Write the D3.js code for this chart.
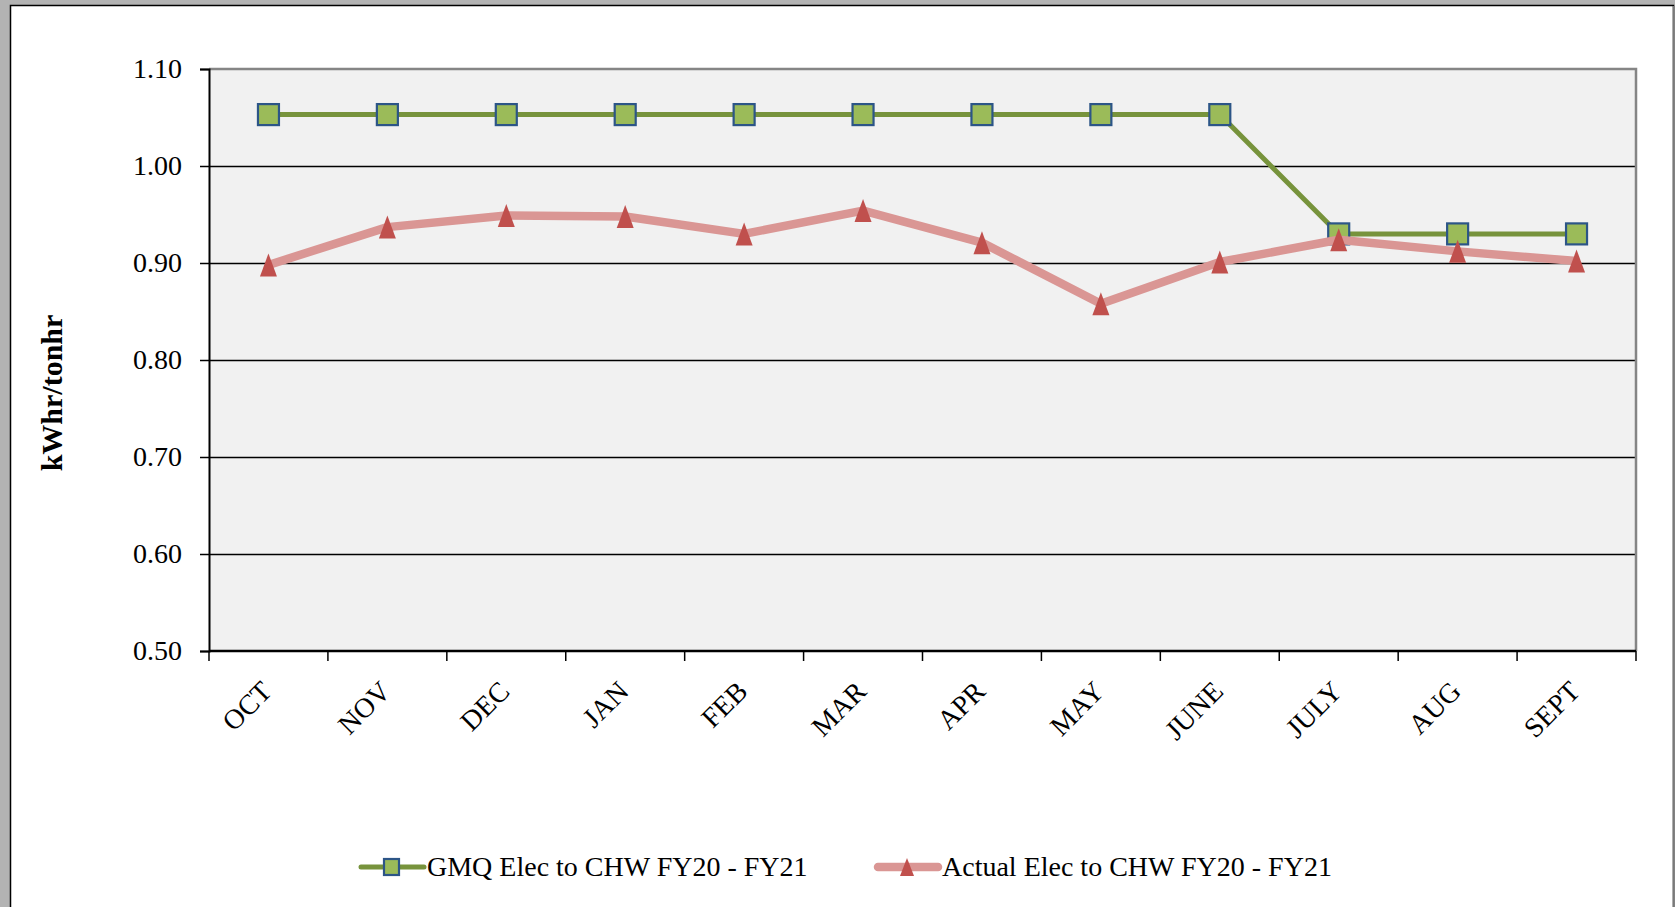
<!DOCTYPE html>
<html>
<head>
<meta charset="utf-8">
<script src="https://cdn.jsdelivr.net/npm/d3@7"></script>
<style>
  body { margin: 0; background: #b3b3b3; overflow: hidden; }
  svg { display: block; }
  text { font-family: "Liberation Serif", "Times New Roman", serif; fill: #000; }
</style>
</head>
<body>
<script>
// months on the x axis
var months = ["OCT", "NOV", "DEC", "JAN", "FEB", "MAR", "APR", "MAY", "JUNE", "JULY", "AUG", "SEPT"];

// GMQ target and actual kWhr/tonhr
var gmqValues = [1.053, 1.053, 1.053, 1.053, 1.053, 1.053, 1.053, 1.053, 1.053, 0.930, 0.930, 0.930];
var actualValues = [0.898, 0.937, 0.949, 0.948, 0.930, 0.954, 0.921, 0.858, 0.901, 0.924, 0.912, 0.902];

var yTicks = [0.50, 0.60, 0.70, 0.80, 0.90, 1.00, 1.10];
var seriesNames = ["GMQ Elec to CHW FY20 - FY21", "Actual Elec to CHW FY20 - FY21"];

var widthSVG = 1675;
var heightSVG = 907;

var plot = { left: 209, right: 1636, top: 69, bottom: 651 };

var svg = d3.select("body")
  .append("svg")
  .attr("width", widthSVG)
  .attr("height", heightSVG);

// white page with the frame
svg.append("rect")
  .attr("x", 10.5).attr("y", 5.5)
  .attr("width", 1663).attr("height", 910)
  .attr("fill", "#fff")
  .attr("stroke", "#000")
  .attr("stroke-width", 1.5);
svg.append("line")
  .attr("x1", 1673.5).attr("x2", 1673.5)
  .attr("y1", 6).attr("y2", 907)
  .attr("stroke", "#7a7a7a").attr("stroke-width", 1.5);

var x = d3.scaleBand().domain(months).range([plot.left, plot.right]);
var y = d3.scaleLinear().domain([0.5, 1.1]).range([plot.bottom, plot.top]);

// plot background
svg.append("rect")
  .attr("x", plot.left).attr("y", plot.top)
  .attr("width", plot.right - plot.left).attr("height", plot.bottom - plot.top)
  .attr("fill", "#f1f1f1");

// gridlines
svg.append("g")
  .selectAll("line")
  .data(yTicks.filter(d => d > 0.5 && d < 1.1))
  .enter().append("line")
  .attr("x1", plot.left).attr("x2", plot.right)
  .attr("y1", d => Math.round(y(d)) + 0.5).attr("y2", d => Math.round(y(d)) + 0.5)
  .attr("stroke", "#000").attr("stroke-width", 1.3);

// top and right border in grey
svg.append("path")
  .attr("d", `M${plot.left},${plot.top}H${plot.right}V${plot.bottom}`)
  .attr("fill", "none")
  .attr("stroke", "#858585").attr("stroke-width", 2.5);

// y axis
var axisLeft = d3.axisLeft(y)
  .tickValues(yTicks)
  .tickFormat(d3.format(".2f"))
  .tickSize(9)
  .tickPadding(18);

var gy = svg.append("g")
  .attr("transform", `translate(${plot.left},0)`)
  .call(axisLeft);
gy.select(".domain").attr("stroke", "#000").attr("stroke-width", 2);
gy.selectAll(".tick line").attr("stroke", "#000").attr("stroke-width", 1.5);
gy.selectAll(".tick text")
  .attr("font-family", "Liberation Serif")
  .attr("font-size", 28)
  .attr("fill", "#000");

// x axis line and tick marks at category boundaries
var boundaries = months.map(m => x(m)).concat([x.range()[1]]);
svg.append("line")
  .attr("x1", plot.left).attr("x2", plot.right)
  .attr("y1", plot.bottom).attr("y2", plot.bottom)
  .attr("stroke", "#000").attr("stroke-width", 2.5);
svg.append("g")
  .selectAll("line")
  .data(boundaries)
  .enter().append("line")
  .attr("x1", d => d).attr("x2", d => d)
  .attr("y1", plot.bottom).attr("y2", plot.bottom + 10)
  .attr("stroke", "#000").attr("stroke-width", 1.5);

// rotated month labels
svg.append("g")
  .selectAll("text")
  .data(months)
  .enter().append("text")
  .attr("transform", d => `translate(${x(d) + x.bandwidth() / 2 + 5}, ${plot.bottom + 42}) rotate(-45)`)
  .attr("text-anchor", "end")
  .attr("font-size", 28)
  .text(d => d);

// y axis title
svg.append("text")
  .attr("transform", `translate(62, 393) rotate(-90)`)
  .attr("text-anchor", "middle")
  .attr("font-size", 30)
  .attr("font-weight", "bold")
  .text("kWhr/tonhr");

// lines
var line = d3.line()
  .x((d, i) => x(months[i]) + x.bandwidth() / 2)
  .y(d => y(d));

// tall narrow triangle marker like the spreadsheet one
function tallTriangle(w, h) {
  return d3.symbol().type({
    draw: function(ctx) {
      ctx.moveTo(0, -h / 2);
      ctx.lineTo(w / 2, h / 2);
      ctx.lineTo(-w / 2, h / 2);
      ctx.closePath();
    }
  });
}

// GMQ series
svg.append("path")
  .datum(gmqValues)
  .attr("d", line)
  .attr("fill", "none")
  .attr("stroke", "#77933c")
  .attr("stroke-width", 5);
svg.append("g")
  .selectAll("rect")
  .data(gmqValues)
  .enter().append("rect")
  .attr("x", (d, i) => x(months[i]) + x.bandwidth() / 2 - 10.5)
  .attr("y", d => y(d) - 10.5)
  .attr("width", 21).attr("height", 21)
  .attr("fill", "#9bbb59")
  .attr("stroke", "#2c5587")
  .attr("stroke-width", 2.2);

// Actual series
svg.append("path")
  .datum(actualValues)
  .attr("d", line)
  .attr("fill", "none")
  .attr("stroke", "#da9694")
  .attr("stroke-width", 8.5)
  .attr("stroke-linejoin", "round");
svg.append("g")
  .selectAll("path")
  .data(actualValues)
  .enter().append("path")
  .attr("d", tallTriangle(17, 23))
  .attr("transform", (d, i) => `translate(${x(months[i]) + x.bandwidth() / 2}, ${y(d)})`)
  .attr("fill", "#c0504d");

// legend
var legend = svg.append("g");
var legendY = 867;

legend.append("line")
  .attr("x1", 361).attr("x2", 424)
  .attr("y1", legendY).attr("y2", legendY)
  .attr("stroke", "#77933c").attr("stroke-width", 5)
  .attr("stroke-linecap", "round");
legend.append("rect")
  .attr("x", 384).attr("y", legendY - 8)
  .attr("width", 15).attr("height", 16)
  .attr("fill", "#9bbb59")
  .attr("stroke", "#2c5587").attr("stroke-width", 2.2);
legend.append("text")
  .attr("x", 427).attr("y", legendY)
  .attr("dy", "0.33em")
  .attr("font-size", 28)
  .text(seriesNames[0]);

legend.append("line")
  .attr("x1", 878).attr("x2", 938)
  .attr("y1", legendY).attr("y2", legendY)
  .attr("stroke", "#da9694").attr("stroke-width", 8.5)
  .attr("stroke-linecap", "round");
legend.append("path")
  .attr("d", tallTriangle(14, 18))
  .attr("transform", `translate(907, ${legendY})`)
  .attr("fill", "#c0504d");
legend.append("text")
  .attr("x", 942).attr("y", legendY)
  .attr("dy", "0.33em")
  .attr("font-size", 28)
  .text(seriesNames[1]);
</script>
</body>
</html>
